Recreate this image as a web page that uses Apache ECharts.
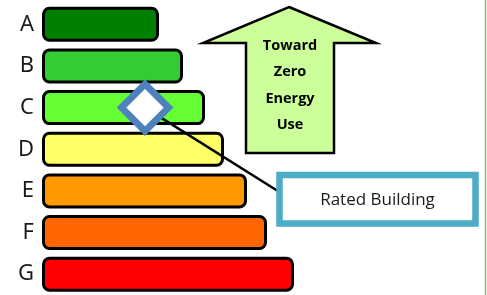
<!DOCTYPE html>
<html><head><meta charset="utf-8">
<script src="https://cdn.jsdelivr.net/npm/echarts@6/dist/echarts.min.js"></script>
<style>html,body{margin:0;padding:0;background:#fff}#c{width:487px;height:295px}</style>
</head><body><div id="c"></div>
<script>
const categories = ['A','B','C','D','E','F','G'];
const barValues = [117, 141, 163, 182, 205, 225, 252];
const barColors = ['#008000','#33cc33','#66ff33','#ffff66','#ff9900','#ff6600','#ff0000'];
const ratedValue = 103;
const ratedCategory = 'C';
const arrowLines = ['Toward','Zero','Energy','Use'];
const boxLabel = 'Rated Building';

const chart = echarts.init(document.getElementById('c'), null, {renderer:'canvas'});
const option = {
  animation:false,
  backgroundColor:'#fff',
  grid:{left:42, right:45, top:3.5, bottom:-1.8},
  xAxis:{type:'value', min:0, max:400, show:false},
  yAxis:{type:'category', data:categories, inverse:true,
    axisLine:{show:false}, axisTick:{show:false}, splitLine:{show:false},
    axisLabel:{fontSize:22, color:'#1a1a1a', fontFamily:'Noto Sans', margin:8}},
  series:[
    {type:'bar', z:2, barWidth:35,
     data:barValues.map((v,i)=>({value:v, itemStyle:{color:barColors[i]}})),
     itemStyle:{borderColor:'#000', borderWidth:3, borderRadius:6}},
    {type:'scatter', z:5, symbol:'diamond', symbolSize:47,
     data:[[ratedValue, ratedCategory]],
     itemStyle:{color:'#fff', borderColor:'#4f81bd', borderWidth:7, opacity:1}}
  ]
};
chart.setOption(option);
const p = chart.convertToPixel({seriesIndex:1}, [ratedValue, ratedCategory]);
chart.setOption({graphic:[
  {type:'line', z:4, shape:{x1:p[0], y1:p[1], x2:281, y2:193}, style:{stroke:'#000', lineWidth:2.5}},
  {type:'polygon', z:1, shape:{points:[[289,7],[376,43],[334,43],[334,153],[246,153],[246,43],[203,43]]},
   style:{fill:'#ccff99', stroke:'#000', lineWidth:2.5, lineJoin:'miter'}},
  ...arrowLines.map((t,i)=>({type:'text', z:6, x:290, y:46+i*26.3,
    style:{text:t, fill:'#000', font:'bold 14.5px "Open Sans"', align:'center', verticalAlign:'middle'}})),
  {type:'rect', z:6, shape:{x:279.5, y:175, width:196, height:48.5},
   style:{fill:'#fff', stroke:'#4bacc6', lineWidth:6.5}},
  {type:'text', z:7, x:377.5, y:200,
   style:{text:boxLabel, fill:'#1a1a1a', font:'17px "Open Sans"', align:'center', verticalAlign:'middle'}},
  {type:'line', z:7, shape:{x1:485.5, y1:0, x2:485.5, y2:295}, style:{stroke:'#9bbb59', lineWidth:1.5}}
]});
</script></body></html>
